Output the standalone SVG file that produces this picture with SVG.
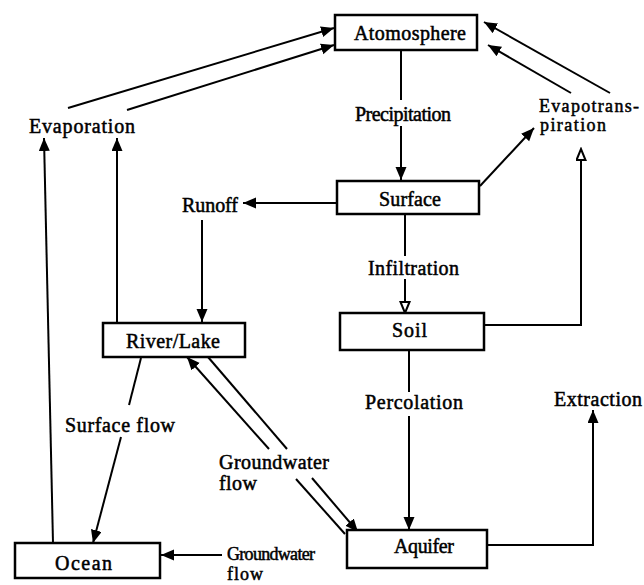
<svg xmlns="http://www.w3.org/2000/svg" width="644" height="585" viewBox="0 0 644 585">
<style>
.box{fill:#fff;stroke:#000;stroke-width:2.5}
.t{font-family:"Liberation Serif","Times New Roman",serif;font-size:20px;fill:#000;stroke:#000;stroke-width:0.5}
.s{font-size:18px}
.c line,.c polyline{stroke:#000;stroke-width:2;fill:none}
</style>
<defs>
<marker id="a" markerUnits="userSpaceOnUse" markerWidth="14" markerHeight="12" refX="13" refY="5.5" orient="auto"><path d="M0,0 L13,5.5 L0,11 z" fill="#000"/></marker>
<marker id="h" markerUnits="userSpaceOnUse" markerWidth="14" markerHeight="12" refX="12" refY="5.5" orient="auto"><path d="M1,1 L12,5.5 L1,10 z" fill="#fff" stroke="#000" stroke-width="2"/></marker>
</defs>
<rect width="644" height="585" fill="#fff"/>
<g class="c" id="connectors">
<line x1="401" y1="51" x2="401" y2="100"/>
<line x1="401" y1="126" x2="401" y2="180" marker-end="url(#a)"/>
<line x1="405" y1="215" x2="405" y2="256"/>
<line x1="405" y1="279" x2="405" y2="313" marker-end="url(#h)"/>
<line x1="409" y1="351" x2="409" y2="392"/>
<line x1="409" y1="416" x2="409" y2="530" marker-end="url(#a)"/>
<line x1="480" y1="186" x2="534" y2="128" marker-end="url(#a)"/>
<polyline points="485,325 581,325 581,149" marker-end="url(#h)"/>
<line x1="610" y1="93" x2="484" y2="22" marker-end="url(#a)"/>
<line x1="571" y1="93" x2="488" y2="45" marker-end="url(#a)"/>
<line x1="68" y1="108" x2="334" y2="28" marker-end="url(#a)"/>
<line x1="127" y1="110" x2="334" y2="45" marker-end="url(#a)"/>
<line x1="337" y1="203" x2="243" y2="203" marker-end="url(#a)"/>
<line x1="202" y1="220" x2="202" y2="322" marker-end="url(#a)"/>
<line x1="117" y1="323" x2="117" y2="138" marker-end="url(#a)"/>
<line x1="53" y1="543" x2="44" y2="138" marker-end="url(#a)"/>
<line x1="141" y1="358" x2="129" y2="405"/>
<line x1="121" y1="437" x2="93" y2="543" marker-end="url(#a)"/>
<line x1="345" y1="534" x2="296" y2="479"/>
<line x1="269" y1="449" x2="187" y2="357" marker-end="url(#a)"/>
<line x1="208" y1="357" x2="287" y2="449"/>
<line x1="312" y1="478" x2="358" y2="532" marker-end="url(#a)"/>
<polyline points="487,545 593,545 593,410" marker-end="url(#a)"/>
<line x1="222" y1="555" x2="161" y2="555" marker-end="url(#a)"/>
</g>
<g id="atmosphere"><rect class="box" x="335" y="15" width="142" height="35"/><text class="t" x="354" y="40" textLength="112">Atomosphere</text></g>
<g id="surface"><rect class="box" x="337" y="181" width="142" height="33"/><text class="t" x="379" y="206" textLength="62">Surface</text></g>
<g id="soil"><rect class="box" x="340" y="313" width="144" height="37"/><text class="t" x="392" y="337" textLength="35">Soil</text></g>
<g id="riverlake"><rect class="box" x="103" y="323" width="142" height="34"/><text class="t" x="126" y="348" textLength="94">River/Lake</text></g>
<g id="ocean"><rect class="box" x="15" y="543" width="145" height="35"/><text class="t" x="55" y="570" textLength="57">Ocean</text></g>
<g id="aquifer"><rect class="box" x="347" y="530" width="140" height="38"/><text class="t" x="394" y="553" textLength="60">Aquifer</text></g>
<g id="labels">
<text class="t" x="29" y="133" textLength="106">Evaporation</text>
<text class="t" x="355" y="121" textLength="96">Precipitation</text>
<text class="t s" x="539" y="112" textLength="100">Evapotrans-</text>
<text class="t s" x="540" y="131" textLength="66">piration</text>
<text class="t" x="182" y="212" textLength="56">Runoff</text>
<text class="t" x="368" y="275" textLength="91">Infiltration</text>
<text class="t" x="365" y="409" textLength="98">Percolation</text>
<text class="t" x="554" y="406" textLength="88">Extraction</text>
<text class="t" x="65" y="432" textLength="110">Surface flow</text>
<text class="t" x="219" y="469" textLength="110">Groundwater</text>
<text class="t" x="219" y="490" textLength="38">flow</text>
<text class="t s" x="227" y="560" textLength="88">Groundwater</text>
<text class="t s" x="227" y="580" textLength="36">flow</text>
</g>
</svg>
